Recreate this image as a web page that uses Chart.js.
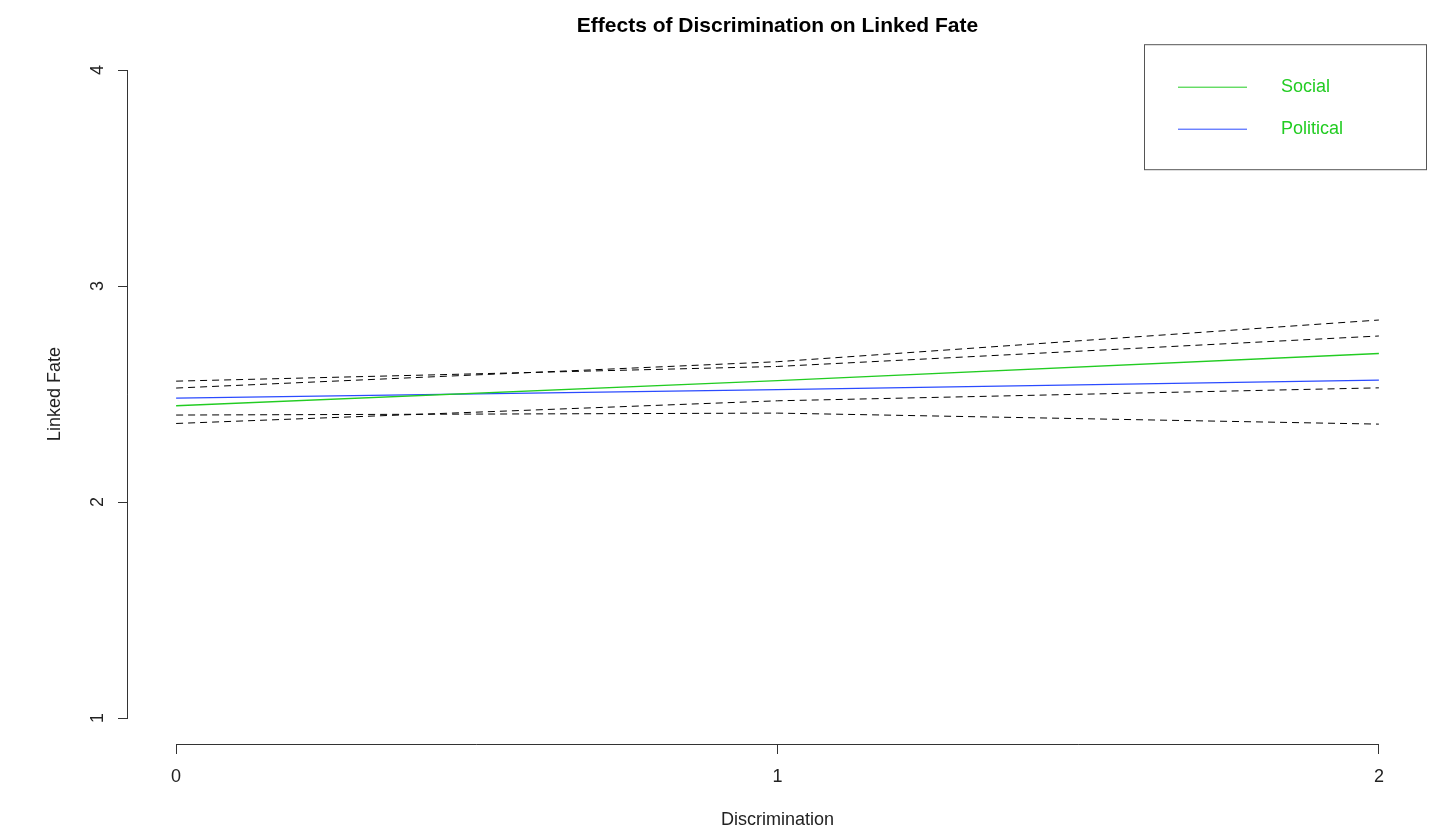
<!DOCTYPE html>
<html>
<head>
<meta charset="utf-8">
<script src="https://cdn.jsdelivr.net/npm/chart.js@4.4.1/dist/chart.umd.min.js"></script>
<style>
  html, body { margin: 0; padding: 0; background: #fff; }
  #wrap { width: 1439px; height: 829px; }
</style>
</head>
<body>
<div id="wrap"><canvas id="fate-chart"></canvas></div>
<script>
var discrimination = [0, 1, 2];
var xTicks = [0, 1, 2];
var yTicks = [1, 2, 3, 4];

var socialFit   = [2.446, 2.562, 2.688];
var socialUpper = [2.528, 2.650, 2.843];
var socialLower = [2.364, 2.469, 2.529];

var politicalFit   = [2.481, 2.521, 2.565];
var politicalUpper = [2.560, 2.628, 2.769];
var politicalLower = [2.403, 2.412, 2.361];

function pts(ys) {
  return discrimination.map(function (x, i) { return { x: x, y: ys[i] }; });
}

function fitLine(label, ys, color) {
  return { label: label, data: pts(ys), borderColor: color, borderWidth: 1.3,
           pointRadius: 0, fill: false, tension: 0, inLegend: true };
}

function ciLine(label, ys) {
  return { label: label, data: pts(ys), borderColor: '#000', borderWidth: 1,
           borderDash: [7, 5], pointRadius: 0, fill: false, tension: 0 };
}

var font = 'Liberation Sans, Arial, Helvetica, sans-serif';

// R-style axis lines: only from first to last tick, plus a boxed legend
var rStyle = {
  id: 'rStyle',
  afterDraw: function (chart) {
    var ctx = chart.ctx;
    var xs = chart.scales.x, ys = chart.scales.y;
    ctx.save();
    ctx.strokeStyle = '#333';
    ctx.lineWidth = 1;
    ctx.beginPath();
    ctx.moveTo(xs.getPixelForValue(xTicks[0]), xs.top + 0.5);
    ctx.lineTo(xs.getPixelForValue(xTicks[xTicks.length - 1]), xs.top + 0.5);
    ctx.moveTo(ys.right - 0.5, ys.getPixelForValue(yTicks[0]));
    ctx.lineTo(ys.right - 0.5, ys.getPixelForValue(yTicks[yTicks.length - 1]));
    ctx.stroke();

    // legend box in the top right corner of the plot region
    var a = chart.chartArea;
    var boxW = 283, boxH = 126;
    var bx = a.right - boxW, by = a.top;
    ctx.strokeStyle = '#555';
    ctx.strokeRect(bx + 0.5, by + 0.5, boxW - 1, boxH - 1);
    var items = chart.data.datasets.filter(function (d) { return d.inLegend; });
    ctx.font = '18px ' + font;
    ctx.textBaseline = 'middle';
    items.forEach(function (d, i) {
      var y = by + 43 + i * 42;
      ctx.strokeStyle = d.borderColor;
      ctx.lineWidth = 1;
      ctx.beginPath();
      ctx.moveTo(bx + 34, y);
      ctx.lineTo(bx + 103, y);
      ctx.stroke();
      ctx.fillStyle = '#22cc22';
      ctx.fillText(d.label, bx + 137, y);
    });
    ctx.restore();
  }
};

var ctx = document.getElementById('fate-chart').getContext('2d');
var chart = new Chart(ctx, {
  type: 'line',
  data: {
    datasets: [
      ciLine('Social upper', socialUpper),
      ciLine('Social lower', socialLower),
      ciLine('Political upper', politicalUpper),
      ciLine('Political lower', politicalLower),
      fitLine('Social', socialFit, '#22cc22'),
      fitLine('Political', politicalFit, '#2b4bff')
    ]
  },
  options: {
    responsive: true,
    maintainAspectRatio: false,
    animation: false,
    layout: { padding: { left: 0, right: 12, top: 0, bottom: 0 } },
    plugins: {
      legend: { display: false },
      tooltip: { enabled: false },
      title: {
        display: true,
        fullSize: false,
        text: 'Effects of Discrimination on Linked Fate',
        color: '#000',
        font: { family: font, size: 21, weight: 'bold', lineHeight: 1.2 },
        padding: { top: 14, bottom: 5 }
      }
    },
    scales: {
      x: {
        type: 'linear',
        min: -0.08, max: 2.08,
        afterBuildTicks: function (s) { s.ticks = xTicks.map(function (v) { return { value: v }; }); },
        afterFit: function (s) { s.height = 85; },
        border: { display: false },
        grid: { display: true, drawOnChartArea: false, drawTicks: true, tickLength: 10, tickColor: '#333' },
        ticks: { color: '#222', font: { family: font, size: 18 }, padding: 12, maxRotation: 0 },
        title: { display: true, text: 'Discrimination', color: '#222',
                 font: { family: font, size: 18, lineHeight: 1.0 }, padding: { top: 0, bottom: 0 } }
      },
      y: {
        type: 'linear',
        min: 0.88, max: 4.12,
        afterBuildTicks: function (s) { s.ticks = yTicks.map(function (v) { return { value: v }; }); },
        afterFit: function (s) { s.width = 128; },
        border: { display: false },
        grid: { display: true, drawOnChartArea: false, drawTicks: true, tickLength: 10, tickColor: '#333' },
        ticks: { color: '#222', font: { family: font, size: 18 }, padding: 15,
                 minRotation: 90, maxRotation: 90, crossAlign: 'center' },
        title: { display: true, text: 'Linked Fate', color: '#222',
                 font: { family: font, size: 18 }, padding: { top: 44, bottom: 0 } }
      }
    }
  },
  plugins: [rStyle]
});
</script>
</body>
</html>
